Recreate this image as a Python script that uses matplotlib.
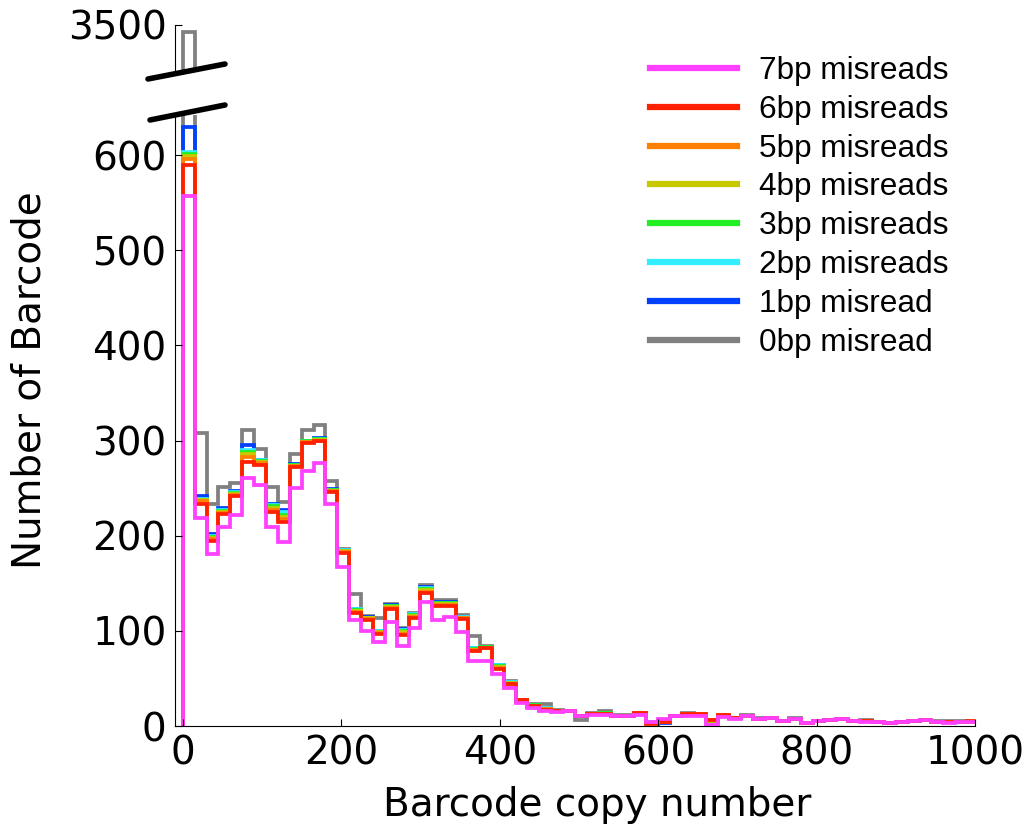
import numpy as np
import matplotlib.pyplot as plt
from matplotlib.lines import Line2D

# bin edges: copy number bins of width 15
edges = np.arange(0, 1006, 15)

labels = ["0bp misread", "1bp misread", "2bp misreads", "3bp misreads",
          "4bp misreads", "5bp misreads", "6bp misreads", "7bp misreads"]
colors = ["#808080", "#0040ff", "#33eeff", "#22ee22",
          "#c8c800", "#ff8000", "#ff2000", "#ff40ff"]

gray0 = [3420, 308, 233, 251, 255, 311, 291, 251, 235, 286,
         311, 316, 257, 186, 139, 116, 113, 128, 103, 119,
         148, 132, 132, 117, 95, 84, 63, 47, 26, 23,
         23, 17, 16, 6, 14, 16, 12, 12, 14, 4,
         5, 10, 14, 12, 4, 10, 8, 12, 8, 8,
         5, 8, 3, 5, 6, 7, 5, 6, 4, 3,
         4, 5, 6, 5, 5, 5, 4]
blue1 = [629, 242, 202, 229, 247, 295, 280, 233, 227, 275,
         300, 303, 249, 185, 123, 115, 100, 127, 102, 118,
         146, 130, 130, 115, 82, 83, 64, 46, 27, 22,
         19, 16, 16, 10, 13, 14, 11, 11, 13, 4,
         3, 10, 13, 12, 5, 11, 8, 11, 7, 8,
         5, 7, 3, 5, 6, 7, 5, 5, 4, 3,
         4, 5, 6, 4, 4, 4, 4]
cyan2 = [603, 239, 200, 227, 246, 290, 279, 232, 225, 274,
         299, 302, 248, 185, 123, 114, 100, 126, 101, 118,
         145, 129, 129, 115, 82, 83, 64, 46, 27, 22,
         19, 16, 16, 10, 13, 14, 11, 11, 13, 4,
         4, 10, 13, 12, 5, 11, 8, 11, 7, 8,
         5, 7, 3, 5, 6, 7, 5, 5, 4, 3,
         4, 5, 6, 4, 4, 4, 4]
green3 = [601, 238, 199, 226, 245, 288, 278, 231, 222, 274,
          299, 302, 248, 184, 122, 113, 99, 126, 100, 117,
          144, 129, 129, 114, 81, 83, 63, 45, 27, 22,
          18, 16, 16, 10, 13, 14, 11, 11, 13, 3,
          4, 10, 13, 12, 5, 11, 8, 11, 7, 8,
          5, 7, 3, 5, 6, 7, 5, 5, 4, 3,
          4, 5, 6, 4, 4, 4, 4]
yellow4 = [599, 237, 198, 225, 244, 286, 277, 229, 220, 273,
           298, 301, 247, 184, 121, 113, 99, 125, 99, 116,
           143, 128, 128, 113, 80, 82, 62, 45, 27, 21,
           18, 16, 16, 10, 13, 13, 11, 11, 13, 3,
           4, 10, 13, 12, 5, 11, 8, 11, 7, 8,
           5, 7, 3, 5, 6, 7, 5, 5, 4, 3,
           4, 5, 6, 4, 4, 4, 4]
orange5 = [596, 236, 197, 224, 243, 283, 276, 227, 217, 273,
           298, 300, 247, 183, 120, 112, 98, 124, 97, 115,
           141, 127, 127, 113, 80, 82, 61, 44, 27, 21,
           18, 16, 16, 11, 13, 13, 11, 11, 14, 3,
           4, 11, 13, 13, 6, 12, 8, 10, 7, 8,
           5, 7, 3, 5, 6, 7, 5, 5, 4, 3,
           4, 5, 6, 4, 4, 4, 4]
red6 = [590, 233, 194, 223, 242, 277, 274, 225, 214, 272,
        297, 299, 246, 182, 119, 111, 97, 123, 96, 114,
        140, 126, 126, 112, 79, 82, 60, 44, 27, 21,
        17, 16, 16, 11, 13, 13, 11, 11, 14, 2,
        4, 11, 13, 13, 6, 12, 8, 10, 7, 8,
        5, 7, 3, 5, 6, 7, 5, 5, 4, 3,
        4, 5, 6, 4, 4, 4, 5]
pink7 = [557, 219, 181, 209, 222, 261, 253, 209, 193, 250,
         268, 276, 233, 167, 111, 100, 88, 109, 84, 103,
         130, 111, 115, 99, 68, 68, 55, 40, 24, 19,
         16, 15, 16, 11, 12, 12, 11, 11, 12, 4,
         7, 10, 11, 11, 1, 9, 7, 10, 7, 8,
         5, 7, 3, 5, 6, 7, 5, 4, 4, 3,
         4, 5, 6, 4, 3, 4, 4]

counts = [gray0, blue1, cyan2, green3, yellow4, orange5, red6, pink7]

plt.rcParams["font.size"] = 28

fig = plt.figure(figsize=(10.29, 8.30), dpi=100)
ax_top = fig.add_axes([0.170, 0.9157, 0.7775, 0.0542])
ax = fig.add_axes([0.170, 0.1253, 0.7775, 0.7361])

for a in (ax_top, ax):
    for vals, c in zip(counts, colors):
        a.stairs(vals, edges, baseline=0, color=c, lw=2.7)
handles = [Line2D([], [], color=c, lw=4.5, label=lab)
           for c, lab in zip(colors, labels)]

ax.set_xlim(-10, 1000)
ax.set_ylim(0, 642)
ax.set_xticks([0, 200, 400, 600, 800, 1000])
ax.set_yticks([0, 100, 200, 300, 400, 500, 600])
ax.spines["top"].set_visible(False)
ax.spines["right"].set_visible(False)
ax.tick_params(direction="in", length=5, pad=6)

ax_top.set_xlim(-10, 1000)
ax_top.set_ylim(3000, 3500)
ax_top.set_yticks([3500])
ax_top.set_xticks([])
for s in ("top", "right", "bottom"):
    ax_top.spines[s].set_visible(False)
ax_top.tick_params(direction="in", length=5, pad=6)
ax_top.patch.set_alpha(0)

# broken axis marks
W, H = 1029, 830
for (x0, y0, x1, y1) in [(148, 79, 225, 64), (150, 120, 225, 105)]:
    fig.add_artist(Line2D([x0 / W, x1 / W], [1 - y0 / H, 1 - y1 / H],
                          color="black", lw=4, solid_capstyle="round"))

fig.text(30 / W, 1 - 380 / H, "Number of Barcode", rotation=90,
         ha="center", va="center", fontsize=28)
fig.text(597 / W, 1 - 805 / H, "Barcode copy number",
         ha="center", va="center", fontsize=28)

fig.legend(handles=handles[::-1], loc="upper left",
           bbox_to_anchor=(650 / W, 1 - 56 / H), frameon=False,
           prop={"family": "Liberation Sans", "size": 22.7},
           handlelength=2.76, handletextpad=0.7, labelspacing=0.28,
           borderpad=0, borderaxespad=0)

fig.savefig("out.png", dpi=100)
